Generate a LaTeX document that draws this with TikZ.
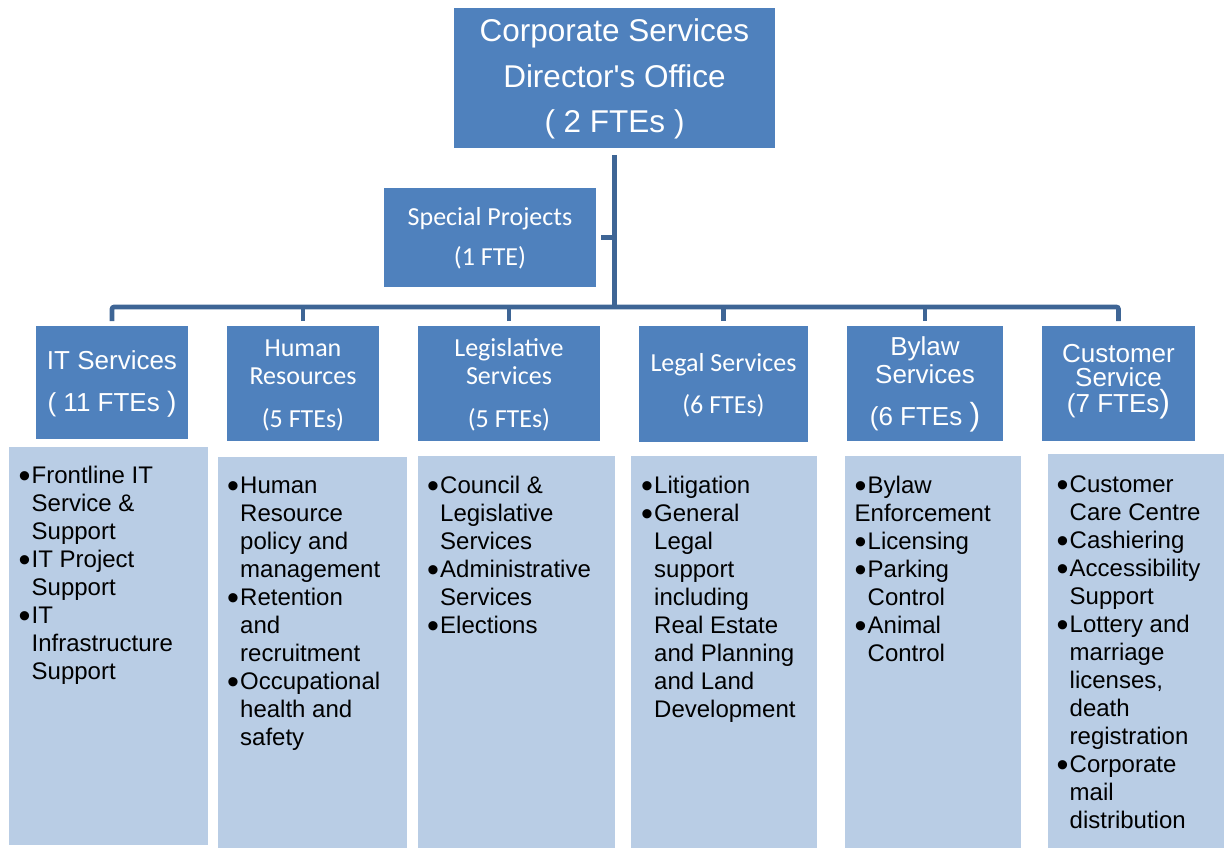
\documentclass[tikz,border=0pt]{standalone}
\usepackage{fontspec}
\setmainfont{Liberation Sans}
\newfontfamily\carl{Carlito}
\definecolor{dkblue}{RGB}{79,129,189}
\definecolor{ltblue}{RGB}{185,205,229}
\definecolor{lnblue}{RGB}{62,101,149}
\newcommand\ib{\makebox[13pt][l]{\raisebox{-4pt}{\fontsize{34}{34}\selectfont •}}}
\newcommand\ic{\hspace*{13pt}}
\newcommand\bigpar[1]{{\fontsize{#1}{#1}\selectfont )}}
\newcommand\listtext[1]{\parbox[t]{220pt}{\fontsize{24}{28}\selectfont\lineskiplimit=-50pt #1}}
\newcommand\boxtext[3]{\parbox[t]{#1}{\centering\lineskiplimit=-50pt #2\selectfont #3}}
\tikzset{
  dbox/.style={fill=dkblue, draw=none, inner sep=0pt, outer sep=0pt},
  lbox/.style={fill=ltblue, draw=none, inner sep=0pt, outer sep=0pt},
  conn/.style={draw=lnblue, line width=4.6pt, rounded corners=2pt},
  lbl/.style={anchor=base, inner sep=0pt, text=white},
  lst/.style={anchor=base west, inner sep=0pt, text=black},
}
\begin{document}
\begin{tikzpicture}[x=1pt,y=-1pt]
\useasboundingbox (0,0) rectangle (1224,848);
% boxes
\node[dbox, minimum width=321pt, minimum height=140pt] (top) at (614.5,78) {};
\node[dbox, minimum width=212pt, minimum height=99pt] (sp) at (490,237.5) {};
\node[dbox, minimum width=152pt, minimum height=113pt] (it) at (112,382.5) {};
\node[dbox, minimum width=152pt, minimum height=115pt] (hr) at (303,383.5) {};
\node[dbox, minimum width=182pt, minimum height=115pt] (lg) at (509,383.5) {};
\node[dbox, minimum width=169pt, minimum height=116pt] (le) at (723.5,384) {};
\node[dbox, minimum width=156pt, minimum height=115pt] (by) at (925,383.5) {};
\node[dbox, minimum width=153pt, minimum height=115pt] (cs) at (1118.5,383.5) {};
\node[lbox, minimum width=199pt, minimum height=398pt] (itL) at (108.5,646) {};
\node[lbox, minimum width=189pt, minimum height=391pt] (hrL) at (312.5,652.5) {};
\node[lbox, minimum width=197pt, minimum height=392pt] (lgL) at (516.5,652) {};
\node[lbox, minimum width=186pt, minimum height=392pt] (leL) at (724,652) {};
\node[lbox, minimum width=176pt, minimum height=392pt] (byL) at (933,652) {};
\node[lbox, minimum width=176pt, minimum height=394pt] (csL) at (1136,651) {};
% connectors
\coordinate (bus) at (615,307);
\draw[conn] ([yshift=-7pt]top.south) -- (top.south |- bus);
\draw[conn] ([xshift=5pt]sp.east) -- (sp.east -| bus);
\draw[conn] ([yshift=5pt]it.north) |- (bus) -| ([yshift=5pt]cs.north);
\draw[conn] ([yshift=5pt]hr.north) -- (hr.north |- bus);
\draw[conn] ([yshift=5pt]lg.north) -- (lg.north |- bus);
\draw[conn] ([yshift=5pt]le.north) -- (le.north |- bus);
\draw[conn] ([yshift=5pt]by.north) -- (by.north |- bus);
% box labels
\node[lbl] (topT) at (614.5,42) {\boxtext{320pt}{\fontsize{31.5}{45.5}}{Corporate Services\\Director\textquotesingle s Office\\( 2 FTEs )}};
\node[lbl] (spT) at (490,225) {\boxtext{210pt}{\carl\fontsize{26}{40}}{Special Projects\\(1 FTE)}};
\node[lbl] (itT) at (112,369) {\boxtext{150pt}{\fontsize{26}{42}}{IT Services\\( 11 FTEs \bigpar{28}}};
\node[lbl] (hrT) at (303,356) {\boxtext{150pt}{\carl\fontsize{26}{28}}{Human\\Resources\\[15pt](5 FTEs)}};
\node[lbl] (lgT) at (509,356) {\boxtext{180pt}{\carl\fontsize{26}{28}}{Legislative\\Services\\[15pt](5 FTEs)}};
\node[lbl] (leT) at (723.5,371) {\boxtext{168pt}{\carl\fontsize{26}{42}}{Legal Services\\(6 FTEs)}};
\node[lbl] (byT) at (925,355) {\boxtext{155pt}{\fontsize{26}{28}}{Bylaw\\Services\\[14pt](6 FTEs \bigpar{32}}};
\node[lbl] (csT) at (1118.5,362.5) {\boxtext{152pt}{\fontsize{26}{24}}{Customer\\Service\\[2pt](7 FTEs\bigpar{32}}};
% lists
\node[lst] (itX) at (18.5,483) {\listtext{\ib Frontline IT\\\ic Service \&\\\ic Support\\\ib IT Project\\\ic Support\\\ib IT\\\ic Infrastructure\\\ic Support}};
\node[lst] (hrX) at (227,493) {\listtext{\ib Human\\\ic Resource\\\ic policy and\\\ic management\\\ib Retention\\\ic and\\\ic recruitment\\\ib Occupational\\\ic health and\\\ic safety}};
\node[lst] (lgX) at (427,493) {\listtext{\ib Council \&\\\ic Legislative\\\ic Services\\\ib Administrative\\\ic Services\\\ib Elections}};
\node[lst] (leX) at (641,493) {\listtext{\ib Litigation\\\ib General\\\ic Legal\\\ic support\\\ic including\\\ic Real Estate\\\ic and Planning\\\ic and Land\\\ic Development}};
\node[lst] (byX) at (854.5,493) {\listtext{\ib Bylaw\\Enforcement\\\ib Licensing\\\ib Parking\\\ic Control\\\ib Animal\\\ic Control}};
\node[lst] (csX) at (1056.5,492) {\listtext{\ib Customer\\\ic Care Centre\\\ib Cashiering\\\ib Accessibility\\\ic Support\\\ib Lottery and\\\ic marriage\\\ic licenses,\\\ic death\\\ic registration\\\ib Corporate\\\ic mail\\\ic distribution}};
\end{tikzpicture}
\end{document}
